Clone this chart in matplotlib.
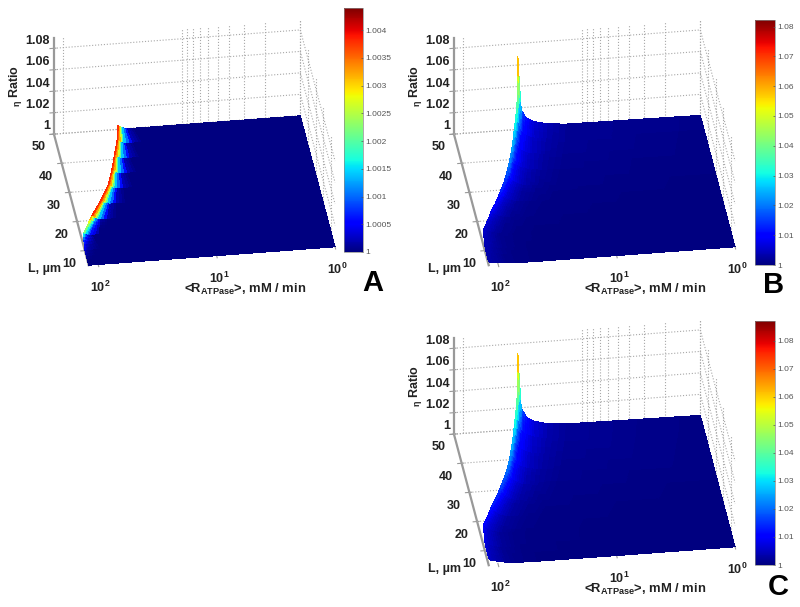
import numpy as np
import matplotlib
matplotlib.use("Agg")
import matplotlib.pyplot as plt
from matplotlib import cm
from matplotlib.colors import Normalize
from mpl_toolkits.mplot3d import proj3d

plt.rcParams['font.family'] = ['Liberation Sans', 'DejaVu Sans']
plt.rcParams['font.weight'] = 'bold'
plt.rcParams['mathtext.default'] = 'regular'

W, H = 800, 607

# ---- data ----
L_rows = [5, 10, 15, 20, 25, 30, 35, 40, 45, 50]                    # L, um
edge_logR = [2.08, 2.08, 2.06, 1.96, 1.85, 1.755, 1.69, 1.635, 1.58, 1.54]  # log10 R at the edge of the surface
offsets = [0, .008, .028, .07, .126, .238, .4, 1.0, 2.08]           # decades below the edge

eta_A = [
    [1, 1, 1, 1, 1, 1, 1, 1, 1],
    [1.0004, 1.0002, 1.0001, 1, 1, 1, 1, 1, 1],
    [1.0022, 1.0015, 1.0006, 1, 1, 1, 1, 1, 1],
    [1.0038, 1.0032, 1.0014, 1.0002, 1, 1, 1, 1, 1],
    [1.0038, 1.0032, 1.0014, 1.0002, 1, 1, 1, 1, 1],
    [1.0038, 1.0032, 1.0014, 1.0002, 1, 1, 1, 1, 1],
    [1.0038, 1.0032, 1.0014, 1.0002, 1, 1, 1, 1, 1],
    [1.0038, 1.0032, 1.0014, 1.0002, 1, 1, 1, 1, 1],
    [1.0038, 1.0032, 1.0014, 1.0002, 1, 1, 1, 1, 1],
    [1.0038, 1.0032, 1.0014, 1.0002, 1, 1, 1, 1, 1],
]
eta_B = [
    [1.003, 1.0028, 1.0024, 1.0018, 1.0009, 1.0004, 1.0002, 1.0001, 1],
    [1.004, 1.0038, 1.0032, 1.0022, 1.0011, 1.0005, 1.0002, 1.0001, 1],
    [1.006, 1.005, 1.004, 1.0025, 1.0012, 1.0006, 1.0003, 1.0001, 1],
    [1.009, 1.007, 1.005, 1.003, 1.0015, 1.0008, 1.0004, 1.0002, 1],
    [1.013, 1.009, 1.006, 1.004, 1.002, 1.001, 1.0005, 1.0003, 1],
    [1.02, 1.012, 1.008, 1.005, 1.003, 1.0015, 1.0008, 1.0005, 1],
    [1.024, 1.015, 1.009, 1.006, 1.004, 1.002, 1.001, 1.0006, 1],
    [1.03, 1.017, 1.01, 1.007, 1.0045, 1.0025, 1.0013, 1.0008, 1],
    [1.04, 1.02, 1.012, 1.008, 1.005, 1.003, 1.0015, 1.001, 1],
    [1.068, 1.052, 1.018, 1.01, 1.0065, 1.0034, 1.0016, 1.001, 1],
]
eta_C = [
    [1.006, 1.005, 1.004, 1.003, 1.0015, 1.0007, 1.0003, 1.0001, 1],
    [1.008, 1.0065, 1.005, 1.0035, 1.0018, 1.0008, 1.0004, 1.0002, 1],
    [1.01, 1.008, 1.006, 1.004, 1.002, 1.001, 1.0005, 1.0002, 1],
    [1.013, 1.01, 1.007, 1.0045, 1.0025, 1.0012, 1.0006, 1.0003, 1],
    [1.017, 1.012, 1.008, 1.005, 1.003, 1.0015, 1.0008, 1.0004, 1],
    [1.022, 1.014, 1.009, 1.006, 1.0035, 1.002, 1.001, 1.0006, 1],
    [1.026, 1.016, 1.01, 1.007, 1.0045, 1.0025, 1.0012, 1.0008, 1],
    [1.033, 1.018, 1.011, 1.008, 1.005, 1.003, 1.0015, 1.001, 1],
    [1.043, 1.022, 1.013, 1.009, 1.006, 1.0033, 1.0018, 1.001, 1],
    [1.071, 1.055, 1.02, 1.011, 1.007, 1.0036, 1.0018, 1.001, 1],
]

z_ticks = [1, 1.02, 1.04, 1.06, 1.08]
z_labels = ['1', '1.02', '1.04', '1.06', '1.08']
L_ticks = [10, 20, 30, 40, 50]
R_ticks = [0, 1, 2]
R_grid = [1, 2, 3, 4, 5, 6, 7, 8, 9, 10, 100]

cbar_A_ticks = [1, 1.0005, 1.001, 1.0015, 1.002, 1.0025, 1.003, 1.0035, 1.004]
cbar_A_labels = ['1', '1.0005', '1.001', '1.0015', '1.002', '1.0025', '1.003', '1.0035', '1.004']
cbar_B_ticks = [1, 1.01, 1.02, 1.03, 1.04, 1.05, 1.06, 1.07, 1.08]
cbar_B_labels = ['1', '1.01', '1.02', '1.03', '1.04', '1.05', '1.06', '1.07', '1.08']

XMAX, LMIN, LMAX, ZMIN, ZMAX = 2.08, 5, 50, 1, 1.09

fig = plt.figure(figsize=(W / 100, H / 100), dpi=100)


def mesh(table, step):
    table = np.array(table)
    edge = np.array(edge_logR)
    off = np.array(offsets)
    ncol = len(off)
    u = np.linspace(0, ncol - 1, 3 * (ncol - 1) + 1)
    idx = np.arange(ncol)
    off_f = np.interp(u, idx, off)
    # only the narrow band next to the edge steps from row to row
    near = np.interp(off_f, [0.07, 0.3], [1, 0])
    Xs, Ys, Zs = [], [], []
    for i in range(len(L_rows) - 1):
        for t in np.linspace(0, 1, 6):
            e = edge[i] + t * (edge[i + 1] - edge[i])
            tz = near * t ** 2 + (1 - near) * t
            stretch = 1 + step * (1 - t) * near
            x = np.maximum(e - off_f * stretch, 0)
            x[-1] = 0
            z = np.interp(u, idx, table[i])
            z1 = np.interp(u, idx, table[i + 1])
            Xs.append(x)
            Ys.append(np.full_like(x, L_rows[i] + t * (L_rows[i + 1] - L_rows[i])))
            Zs.append(z + tz * (z1 - z))
    return np.array(Xs), np.array(Ys), np.array(Zs)


def panel(table, vmax, step, corner0, corner1, cbar_box, cb_ticks, cb_labels, letter, letter_xy):
    ax = fig.add_axes([0.1, 0.1, 0.4, 0.4 * W / H], projection='3d', computed_zorder=False)
    ax.patch.set_alpha(0)
    ax.set_proj_type('ortho')
    ax.view_init(elev=32, azim=262)
    ax.set_xlim(XMAX, 0, view_margin=0)
    ax.set_ylim(LMIN, LMAX, view_margin=0)
    ax.set_zlim(ZMIN, ZMAX, view_margin=0)
    ax.set_box_aspect((249, 250, 114))
    ax.grid(False)
    for a in (ax.xaxis, ax.yaxis, ax.zaxis):
        a.set_pane_color((1, 1, 1, 0))
        a.pane.set_edgecolor((1, 1, 1, 0))

    ax.set_xticks(R_ticks, [r'$10^{%d}$' % v for v in R_ticks])
    ax.set_yticks(L_ticks, [str(v) for v in L_ticks])
    ax.set_zticks(z_ticks, z_labels)
    ax.tick_params(axis='x', labelsize=9, pad=1, color='#999999', labelcolor='#222222')
    ax.tick_params(axis='y', labelsize=9, pad=0.5, color='#999999', labelcolor='#222222')
    ax.tick_params(axis='z', labelsize=9, pad=-6, color='#999999', labelcolor='#222222')
    ax.xaxis.line.set_color((1, 1, 1, 0))
    ax.yaxis.line.set_color('#999999')
    ax.zaxis.line.set_color('#999999')
    ax.yaxis.line.set_linewidth(1.6)
    ax.zaxis.line.set_linewidth(1.6)
    for lab in ax.zaxis.get_ticklabels():
        lab.set_ha('right')
        lab.set_va('bottom')

    grid = dict(color='#a8a8a8', ls=':', lw=0.8, zorder=1)
    for z in z_ticks:
        ax.plot([XMAX, 0], [LMAX, LMAX], [z, z], **grid)
        ax.plot([0, 0], [LMAX, LMIN], [z, z], **grid)
    for r in R_grid:
        lr = np.log10(r)
        ax.plot([lr, lr], [LMAX, LMAX], [ZMIN, ZMAX], **grid)
    for l in L_ticks:
        ax.plot([XMAX, 0], [l, l], [ZMIN, ZMIN], **grid)
        ax.plot([0, 0], [l, l], [ZMIN, ZMAX], **grid)

    X, Y, Z = mesh(table, step)
    norm = Normalize(1, vmax)
    ax.plot_surface(X, Y, Z, facecolors=cm.jet(norm(Z)), rstride=1, cstride=1,
                    linewidth=0, antialiased=False, shade=False, zorder=5)

    # fit the box to its place in the figure
    for _ in range(3):
        ax.apply_aspect()
        M = ax.get_proj()
        pts = []
        for p in ((XMAX, LMAX, ZMIN), (0, LMIN, ZMIN)):
            x2, y2, _z = proj3d.proj_transform(*p, M)
            pts.append(ax.transData.transform((x2, y2)))
        p0, p1 = np.array(pts)
        t0 = np.array([corner0[0], H - corner0[1]], float)
        t1 = np.array([corner1[0], H - corner1[1]], float)
        s = np.linalg.norm(t1 - t0) / np.linalg.norm(p1 - p0)
        pos = ax.get_position(original=True)
        l, b, w, h = pos.x0 * W, pos.y0 * H, pos.width * W, pos.height * H
        cx, cy = l + w / 2, b + h / 2
        mid_now = (p0 + p1) / 2
        mid_t = (t0 + t1) / 2
        cx2 = mid_t[0] + (cx - mid_now[0]) * s
        cy2 = mid_t[1] + (cy - mid_now[1]) * s
        w *= s
        h *= s
        ax.set_position([(cx2 - w / 2) / W, (cy2 - h / 2) / H, w / W, h / H])

    # colour bar
    x0, y0, x1, y1 = cbar_box
    cax = fig.add_axes([x0 / W, 1 - y1 / H, (x1 - x0) / W, (y1 - y0) / H])
    cb = fig.colorbar(cm.ScalarMappable(norm=norm, cmap='jet'), cax=cax)
    cb.set_ticks(cb_ticks, labels=cb_labels)
    cb.ax.tick_params(labelsize=6, length=1.5, width=0.5, direction='in', pad=2,
                      colors='#555555')
    for lab in cb.ax.get_yticklabels():
        lab.set_fontweight('normal')
    cb.outline.set_edgecolor('#888888')
    cb.outline.set_linewidth(0.5)

    # labels
    ox, oy = corner0[0] - 54, corner0[1] - 134
    fig.text((15 + ox) / W, 1 - (86 + oy) / H, r'$_{\eta}$ Ratio', rotation=90,
             ha='center', va='center', fontsize=9, color='#222222')
    fig.text((45 + ox) / W, 1 - (269 + oy) / H, 'L, \u00b5m', ha='center', va='center',
             fontsize=9, color='#222222')
    fig.text((245 + ox) / W, 1 - (289 + oy) / H, r'<R$_{ATPase}$>, mM / min', ha='center',
             va='center', fontsize=9.4, color='#222222')
    fig.text(letter_xy[0] / W, 1 - letter_xy[1] / H, letter, ha='center', va='center',
             fontsize=21, color='black')


panel(eta_A, 1.0044, 0.8, (54, 134), (335, 247), (344, 8, 363, 252),
      cbar_A_ticks, cbar_A_labels, 'A', (373, 283))
panel(eta_B, 1.0822, 0.2, (454, 134), (735, 247), (755, 20, 775, 265),
      cbar_B_ticks, cbar_B_labels, 'B', (774, 285))
panel(eta_C, 1.0871, 0.2, (454, 434), (735, 547), (755, 321, 775, 565),
      cbar_B_ticks, cbar_B_labels, 'C', (778, 587))

fig.savefig('out.png', dpi=100)
